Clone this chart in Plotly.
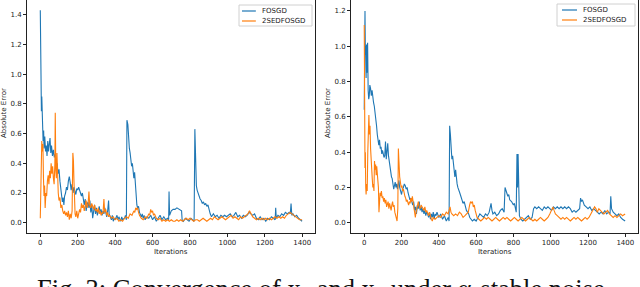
import plotly.graph_objects as go

# ---------------- data (iteration, absolute error) ----------------
left_fosgd = [(0,1.43),(2,0.80),(4,0.88),(6,0.75),(8,0.85),(10,0.68),(12,0.72),(15,0.55),(18,0.62),(20,0.50),
 (24,0.58),(28,0.48),(32,0.52),(36,0.45),(40,0.55),(44,0.48),(48,0.53),(52,0.57),(56,0.47),(60,0.52),(65,0.45),
 (70,0.49),(75,0.44),(80,0.46),(85,0.38),(90,0.40),(95,0.33),(100,0.36),(105,0.28),(110,0.22),(114,0.18),(118,0.14),
 (122,0.17),(126,0.12),(130,0.18),(135,0.20),(140,0.24),(145,0.22),(150,0.28),(155,0.31),(160,0.27),(165,0.22),
 (170,0.26),(175,0.20),(180,0.24),(185,0.22),(190,0.19),(195,0.23),(200,0.22),(205,0.24),(210,0.22),(215,0.20),
 (220,0.18),(225,0.20),(230,0.14),(235,0.12),(240,0.16),(245,0.08),(250,0.12),(255,0.14),(260,0.10),(265,0.15),
 (270,0.07),(275,0.12),(280,0.03),(285,0.08),(290,0.12),(295,0.06),(300,0.10),(305,0.05),(310,0.08),(315,0.11),
 (320,0.07),(325,0.09),(330,0.05),(335,0.08),(340,0.06),(345,0.10),(350,0.07),(355,0.04),(360,0.08),(365,0.15),
 (368,0.06),(372,0.04),(380,0.02),(385,0.05),(390,0.01),(395,0.03),(400,0.02),(410,0.05),(415,0.02),(420,0.04),
 (430,0.01),(435,0.04),(440,0.02),(450,0.03),(455,0.05),(460,0.02),(463,0.69),(468,0.66),(472,0.55),(476,0.50),
 (480,0.47),(484,0.42),(488,0.38),(492,0.40),(496,0.32),(500,0.30),(504,0.34),(508,0.25),(512,0.18),(516,0.12),
 (520,0.10),(525,0.11),(530,0.07),(535,0.05),(540,0.04),(545,0.06),(550,0.03),(555,0.05),(560,0.02),(570,0.04),
 (580,0.03),(590,0.05),(600,0.02),(610,0.04),(620,0.01),(630,0.03),(640,0.05),(650,0.02),(660,0.04),(670,0.02),
 (680,0.03),(686,0.02),(688,0.21),(691,0.05),(695,0.06),(700,0.08),(710,0.09),(720,0.09),(730,0.10),(740,0.09),
 (750,0.08),(755,0.08),(758,0.02),(765,0.01),(775,0.03),(785,0.02),(795,0.01),(805,0.03),(815,0.02),(822,0.01),
 (826,0.63),(830,0.30),(834,0.25),(838,0.22),(842,0.20),(848,0.18),(854,0.16),(860,0.15),(866,0.13),(872,0.14),
 (878,0.12),(884,0.13),(890,0.11),(896,0.12),(902,0.08),(908,0.06),(915,0.04),(925,0.06),(935,0.04),(945,0.05),
 (955,0.03),(965,0.05),(975,0.04),(985,0.05),(995,0.04),(1005,0.05),(1015,0.06),(1025,0.04),(1035,0.05),
 (1045,0.07),(1055,0.04),(1065,0.05),(1075,0.03),(1085,0.05),(1095,0.04),(1105,0.05),(1115,0.07),(1125,0.06),
 (1135,0.05),(1145,0.06),(1155,0.03),(1165,0.02),(1175,0.04),(1185,0.02),(1195,0.03),(1205,0.01),(1215,0.03),
 (1225,0.02),(1235,0.04),(1245,0.03),(1255,0.02),(1258,0.10),(1261,0.03),(1270,0.05),(1280,0.04),(1290,0.06),
 (1300,0.05),(1310,0.07),(1320,0.06),(1330,0.07),(1336,0.06),(1340,0.13),(1344,0.05),(1350,0.06),(1360,0.04),
 (1370,0.05),(1380,0.03),(1390,0.02),(1399,0.01)]

left_2sed = [(0,0.03),(2,0.15),(4,0.40),(6,0.52),(8,0.55),(11,0.48),(14,0.53),(17,0.30),(20,0.18),(23,0.25),
 (26,0.10),(30,0.20),(34,0.18),(38,0.28),(42,0.32),(46,0.26),(50,0.35),(54,0.30),(58,0.40),(62,0.33),(66,0.38),
 (70,0.30),(74,0.26),(78,0.40),(80,0.74),(83,0.35),(86,0.30),(89,0.47),(92,0.25),(96,0.20),(100,0.15),(105,0.17),
 (110,0.10),(115,0.12),(120,0.08),(125,0.06),(130,0.08),(135,0.05),(140,0.07),(145,0.04),(150,0.08),(155,0.02),
 (160,0.06),(165,0.03),(170,0.08),(174,0.47),(177,0.42),(180,0.28),(183,0.15),(186,0.06),(190,0.04),(195,0.08),
 (200,0.03),(205,0.06),(210,0.09),(215,0.07),(220,0.13),(225,0.10),(230,0.12),(235,0.08),(240,0.11),(245,0.15),
 (250,0.10),(255,0.12),(260,0.21),(264,0.12),(270,0.10),(275,0.13),(280,0.11),(285,0.09),(290,0.12),(295,0.08),
 (300,0.09),(305,0.07),(310,0.10),(315,0.06),(320,0.08),(325,0.05),(330,0.07),(335,0.06),(340,0.16),(344,0.07),
 (350,0.09),(355,0.05),(360,0.07),(365,0.04),(370,0.05),(380,0.03),(390,0.04),(400,0.02),(410,0.03),(420,0.01),
 (430,0.02),(440,0.01),(450,0.03),(460,0.04),(470,0.03),(480,0.06),(490,0.05),(500,0.08),(505,0.07),(510,0.10),
 (515,0.09),(520,0.10),(525,0.07),(530,0.05),(540,0.03),(550,0.02),(560,0.04),(570,0.03),(580,0.06),(585,0.05),
 (590,0.09),(595,0.07),(600,0.08),(605,0.05),(610,0.06),(620,0.03),(630,0.02),(640,0.03),(650,0.01),(660,0.02),
 (670,0.01),(680,0.02),(690,0.01),(700,0.02),(710,0.01),(720,0.01),(730,0.02),(740,0.01),(750,0.02),(760,0.01),
 (770,0.02),(780,0.03),(790,0.02),(800,0.03),(810,0.02),(820,0.01),(830,0.02),(840,0.02),(850,0.01),(860,0.02),
 (870,0.03),(880,0.02),(890,0.01),(900,0.02),(910,0.03),(920,0.02),(930,0.04),(940,0.03),(950,0.02),(960,0.03),
 (970,0.04),(980,0.03),(990,0.02),(1000,0.03),(1010,0.04),(1020,0.05),(1030,0.03),(1040,0.04),(1050,0.03),
 (1060,0.02),(1070,0.04),(1080,0.03),(1090,0.04),(1100,0.05),(1110,0.06),(1118,0.08),(1125,0.06),(1135,0.04),
 (1145,0.03),(1155,0.02),(1165,0.03),(1175,0.02),(1185,0.03),(1195,0.02),(1205,0.03),(1215,0.02),(1225,0.03),
 (1235,0.02),(1245,0.03),(1255,0.04),(1265,0.03),(1275,0.04),(1285,0.03),(1295,0.04),(1305,0.03),(1315,0.05),
 (1325,0.06),(1335,0.07),(1345,0.06),(1355,0.05),(1365,0.04),(1375,0.03),(1385,0.02),(1399,0.02)]

right_fosgd = [(0,0.64),(2,1.12),(4,1.20),(6,0.95),(8,1.00),(10,0.82),(12,1.01),(15,0.85),(18,1.02),(21,0.75),
 (24,0.70),(27,0.72),(30,0.78),(34,0.76),(38,0.72),(42,0.75),(46,0.70),(50,0.68),(54,0.66),(58,0.63),(62,0.61),
 (66,0.55),(70,0.50),(74,0.46),(78,0.44),(82,0.47),(86,0.42),(90,0.43),(94,0.39),(98,0.41),(102,0.38),(106,0.37),
 (110,0.38),(114,0.46),(118,0.36),(122,0.40),(126,0.45),(130,0.38),(134,0.34),(138,0.30),(142,0.28),(146,0.26),
 (150,0.25),(154,0.23),(158,0.19),(162,0.21),(166,0.23),(170,0.20),(174,0.22),(178,0.19),(182,0.22),(186,0.24),
 (190,0.20),(195,0.18),(200,0.16),(205,0.19),(210,0.20),(215,0.22),(220,0.21),(225,0.19),(230,0.20),(235,0.17),
 (240,0.15),(245,0.13),(250,0.14),(255,0.11),(260,0.10),(265,0.12),(270,0.07),(275,0.09),(280,0.05),(285,0.10),
 (290,0.08),(295,0.12),(300,0.07),(305,0.09),(310,0.06),(315,0.08),(320,0.05),(325,0.07),(330,0.04),(335,0.06),
 (340,0.05),(345,0.03),(350,0.06),(355,0.02),(360,0.05),(365,0.03),(370,0.06),(375,0.02),(380,0.05),(385,0.04),
 (390,0.06),(400,0.03),(410,0.05),(420,0.02),(430,0.04),(440,0.01),(450,0.03),(455,0.01),(458,0.55),(462,0.50),
 (466,0.40),(470,0.36),(474,0.38),(478,0.32),(482,0.30),(486,0.26),(490,0.30),(494,0.25),(498,0.22),(502,0.20),
 (506,0.18),(512,0.17),(518,0.15),(524,0.13),(530,0.11),(536,0.12),(542,0.09),(548,0.07),(554,0.06),(560,0.05),
 (566,0.03),(572,0.02),(580,0.01),(590,0.02),(600,0.01),(610,0.03),(620,0.05),(630,0.04),(640,0.03),(650,0.05),
 (660,0.04),(670,0.06),(680,0.11),(685,0.07),(690,0.05),(700,0.06),(710,0.04),(720,0.05),(730,0.07),(740,0.08),
 (750,0.06),(755,0.20),(760,0.18),(765,0.16),(770,0.15),(775,0.16),(780,0.13),(790,0.12),(800,0.10),(805,0.11),
 (810,0.08),(815,0.06),(819,0.39),(822,0.20),(825,0.39),(828,0.08),(832,0.04),(840,0.02),(850,0.01),(860,0.02),
 (870,0.03),(880,0.04),(890,0.02),(900,0.03),(908,0.08),(915,0.09),(925,0.08),(935,0.09),(945,0.08),(955,0.07),
 (965,0.09),(975,0.08),(985,0.09),(995,0.08),(1005,0.07),(1015,0.09),(1025,0.08),(1035,0.09),(1045,0.08),
 (1055,0.09),(1065,0.08),(1075,0.09),(1085,0.08),(1095,0.09),(1105,0.08),(1115,0.06),(1125,0.07),(1135,0.06),
 (1145,0.07),(1155,0.08),(1160,0.14),(1165,0.12),(1170,0.13),(1180,0.10),(1190,0.09),(1200,0.08),(1210,0.09),
 (1220,0.07),(1230,0.08),(1240,0.07),(1250,0.06),(1260,0.05),(1270,0.06),(1280,0.05),(1290,0.07),(1300,0.05),
 (1310,0.06),(1318,0.05),(1322,0.15),(1326,0.08),(1335,0.06),(1345,0.05),(1355,0.04),(1365,0.05),(1375,0.03),
 (1385,0.02),(1399,0.01)]

right_2sed = [(0,1.12),(2,0.60),(4,0.31),(6,0.40),(8,0.20),(10,0.16),(13,0.22),(16,0.18),(19,0.40),(22,0.52),
 (25,0.61),(28,0.50),(31,0.55),(34,0.42),(37,0.38),(40,0.30),(43,0.25),(46,0.20),(49,0.22),(52,0.18),(55,0.35),
 (58,0.30),(61,0.33),(64,0.27),(67,0.32),(70,0.28),(73,0.25),(76,0.20),(79,0.06),(82,0.12),(85,0.17),(88,0.15),
 (92,0.18),(96,0.14),(100,0.15),(104,0.12),(108,0.14),(112,0.11),(116,0.13),(120,0.09),(124,0.10),(128,0.12),
 (132,0.08),(136,0.11),(140,0.09),(144,0.07),(148,0.10),(152,0.12),(156,0.09),(160,0.10),(164,0.06),(168,0.04),
 (172,0.02),(176,0.01),(180,0.08),(183,0.42),(186,0.35),(190,0.26),(194,0.22),(198,0.20),(202,0.21),(206,0.18),
 (210,0.19),(214,0.16),(218,0.15),(222,0.14),(226,0.12),(230,0.13),(234,0.11),(238,0.10),(242,0.12),(246,0.11),
 (250,0.14),(254,0.12),(258,0.15),(262,0.11),(266,0.08),(270,0.05),(274,0.03),(278,0.06),(282,0.09),(286,0.11),
 (290,0.12),(295,0.09),(300,0.08),(305,0.10),(310,0.09),(315,0.08),(320,0.07),(325,0.09),(330,0.06),(335,0.07),
 (340,0.05),(345,0.04),(350,0.06),(355,0.03),(360,0.02),(365,0.01),(370,0.03),(380,0.02),(390,0.03),(400,0.04),
 (410,0.03),(420,0.05),(430,0.04),(440,0.06),(450,0.05),(455,0.08),(460,0.09),(465,0.06),(470,0.05),(480,0.04),
 (490,0.05),(500,0.04),(510,0.06),(520,0.05),(530,0.03),(540,0.04),(550,0.05),(558,0.06),(565,0.10),(570,0.12),
 (575,0.11),(580,0.12),(585,0.09),(590,0.10),(595,0.07),(600,0.05),(605,0.03),(615,0.02),(625,0.01),(635,0.02),
 (645,0.03),(655,0.02),(665,0.03),(675,0.02),(685,0.01),(695,0.02),(705,0.03),(715,0.02),(725,0.01),(735,0.02),
 (745,0.03),(755,0.02),(765,0.03),(775,0.02),(785,0.01),(795,0.02),(805,0.03),(815,0.02),(825,0.01),(835,0.02),
 (845,0.03),(855,0.02),(865,0.01),(875,0.02),(885,0.03),(895,0.02),(905,0.01),(915,0.02),(925,0.01),(935,0.02),
 (945,0.03),(955,0.02),(965,0.01),(975,0.02),(985,0.03),(995,0.05),(1005,0.08),(1012,0.09),(1018,0.07),
 (1025,0.05),(1035,0.04),(1045,0.03),(1055,0.02),(1065,0.03),(1075,0.02),(1085,0.03),(1095,0.02),(1105,0.01),
 (1115,0.02),(1125,0.03),(1135,0.02),(1145,0.03),(1155,0.02),(1165,0.01),(1175,0.02),(1185,0.03),(1195,0.02),
 (1205,0.03),(1215,0.05),(1225,0.07),(1235,0.09),(1242,0.08),(1250,0.06),(1258,0.08),(1265,0.07),(1275,0.06),
 (1285,0.05),(1295,0.06),(1305,0.07),(1315,0.05),(1325,0.04),(1335,0.03),(1345,0.04),(1355,0.03),(1365,0.04),
 (1375,0.05),(1385,0.04),(1399,0.05)]

series_names = ["FOSGD", "2SEDFOSGD"]
x_ticks = [0, 200, 400, 600, 800, 1000, 1200, 1400]
left_y_ticks = [0.0, 0.2, 0.4, 0.6, 0.8, 1.0, 1.2, 1.4]
right_y_ticks = [0.0, 0.2, 0.4, 0.6, 0.8, 1.0, 1.2]
x_title = "Iterations"
y_title = "Absolute Error"
caption = "Fig. 3: Convergence of x<sub>1</sub> and x<sub>2</sub> under α-stable noise"

BLUE = "#1f77b4"
ORANGE = "#ff7f0e"
COLORS = [BLUE, ORANGE]
W, H = 640, 287

fig = go.Figure()

def add(data, name, color, xa, ya):
    fig.add_trace(go.Scatter(
        x=[p[0] for p in data], y=[p[1] for p in data], mode="lines", name=name,
        line=dict(color=color, width=1.1), xaxis=xa, yaxis=ya, showlegend=False))

add(left_fosgd, series_names[0], BLUE, "x", "y")
add(left_2sed, series_names[1], ORANGE, "x", "y")
add(right_fosgd, series_names[0], BLUE, "x2", "y2")
add(right_2sed, series_names[1], ORANGE, "x2", "y2")

axis_common = dict(showgrid=False, zeroline=False, showline=True, mirror=True,
                   linecolor="#222", linewidth=1, ticks="outside", ticklen=3,
                   tickcolor="#222", tickwidth=1,
                   tickfont=dict(family="DejaVu Sans", size=7, color="#222"))

ybot = (H - 233) / H
fig.update_layout(
    width=W, height=H, margin=dict(l=0, r=0, t=0, b=0, autoexpand=False),
    paper_bgcolor="white", plot_bgcolor="white", showlegend=False,
    xaxis=dict(domain=[27 / W, 315 / W], range=[-71, 1468], tickvals=x_ticks,
               anchor="y", **axis_common),
    yaxis=dict(domain=[ybot, 1.0], range=[-0.069, 1.499], tickvals=left_y_ticks,
               tickformat=".1f", anchor="x", **axis_common),
    xaxis2=dict(domain=[351 / W, 638 / W], range=[-71, 1468], tickvals=x_ticks,
                anchor="y2", **axis_common),
    yaxis2=dict(domain=[ybot, 1.0], range=[-0.058, 1.262], tickvals=right_y_ticks,
                tickformat=".1f", anchor="x2", **axis_common),
)

def px(x):
    return x / W

def py(y):
    return (H - y) / H

label_font = dict(family="DejaVu Sans", size=7, color="#222")
annos = [
    dict(text=x_title, x=px(171), y=py(252), xref="paper", yref="paper",
         showarrow=False, font=label_font, xanchor="center", yanchor="middle"),
    dict(text=x_title, x=px(495), y=py(252), xref="paper", yref="paper",
         showarrow=False, font=label_font, xanchor="center", yanchor="middle"),
    dict(text=y_title, x=px(4), y=py(113), xref="paper", yref="paper",
         showarrow=False, font=label_font, textangle=-90, xanchor="center", yanchor="middle"),
    dict(text=y_title, x=px(328), y=py(113), xref="paper", yref="paper",
         showarrow=False, font=label_font, textangle=-90, xanchor="center", yanchor="middle"),
    dict(text=caption, x=px(321), y=py(272), xref="paper", yref="paper",
         showarrow=False, xanchor="center", yanchor="top",
         font=dict(family="Liberation Serif", size=26.5, color="#111")),
]

# matplotlib-style legends (box, line samples, labels) for both panels
shapes = []
legend_boxes = [(239, 312, 5, 26, 242, 256, 260), (557, 635, 4, 26, 562, 577, 581)]
for (x0, x1, y0, y1, lx0, lx1, tx) in legend_boxes:
    shapes.append(dict(type="rect", xref="paper", yref="paper",
                       x0=px(x0), x1=px(x1), y0=py(y1), y1=py(y0),
                       line=dict(color="#d0d0d0", width=1),
                       fillcolor="rgba(255,255,255,0.8)", layer="above"))
    for i, (name, col) in enumerate(zip(series_names, COLORS)):
        yy = y0 + 6 + i * 10
        shapes.append(dict(type="line", xref="paper", yref="paper",
                           x0=px(lx0), x1=px(lx1), y0=py(yy), y1=py(yy),
                           line=dict(color=col, width=1.2), layer="above"))
        annos.append(dict(text=name, x=px(tx), y=py(yy), xref="paper", yref="paper",
                          showarrow=False, xanchor="left", yanchor="middle",
                          font=label_font))

fig.update_layout(annotations=annos, shapes=shapes)

fig.write_html("out.html", config={"displayModeBar": False},
               post_script="document.body.style.margin='0';document.body.style.overflow='hidden';")
